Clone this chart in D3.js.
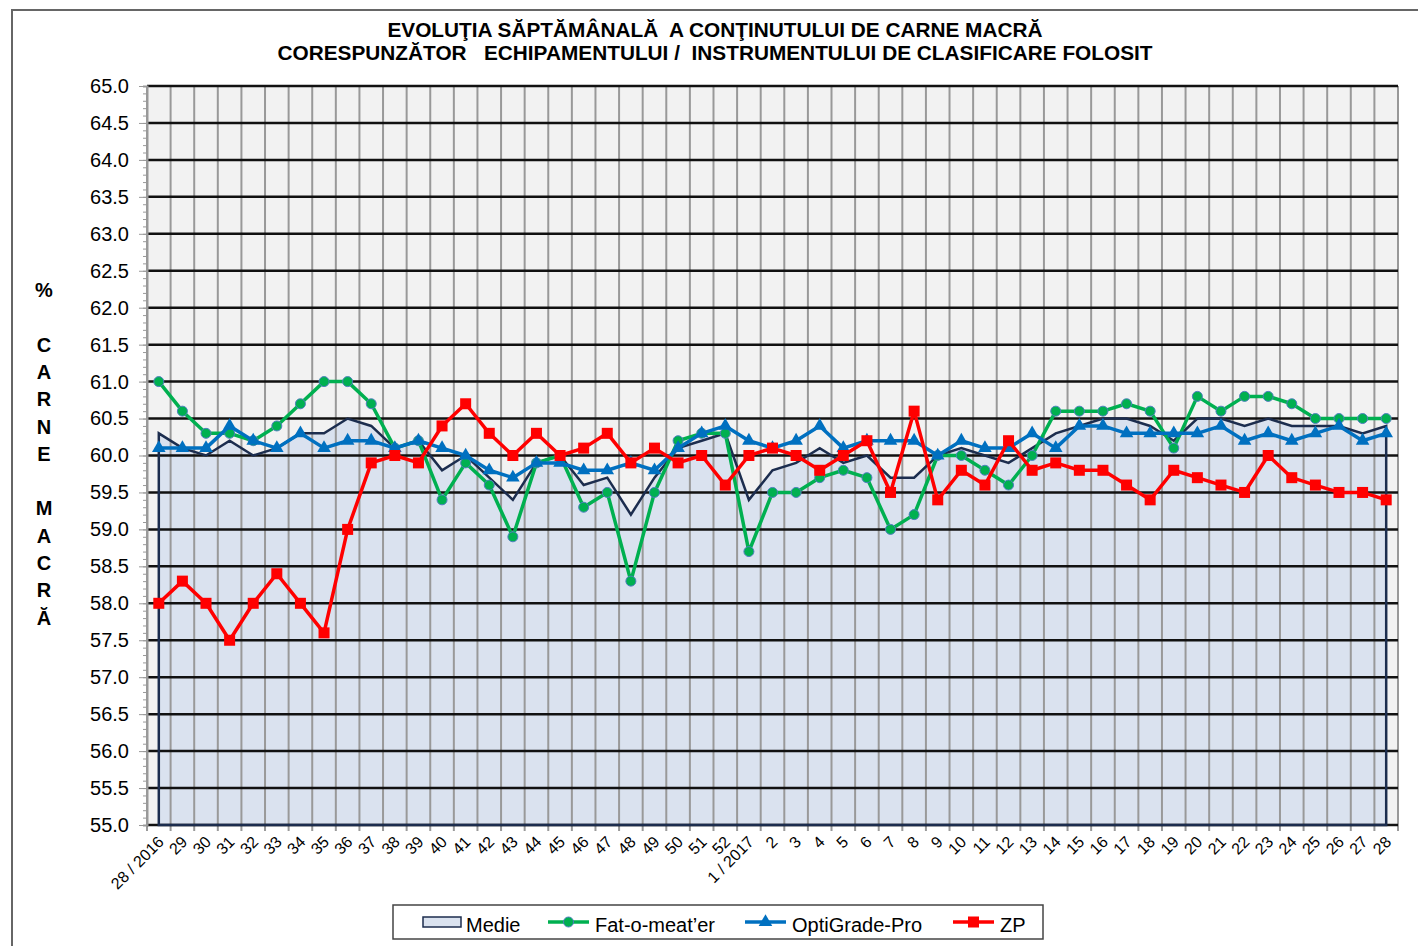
<!DOCTYPE html>
<html>
<head>
<meta charset="utf-8">
<script src="https://cdn.jsdelivr.net/npm/d3@7"></script>
<style>
  body { margin: 0; background: #fff; }
  text { font-family: "Liberation Sans", Arial, sans-serif; }
</style>
</head>
<body>
<svg width="1418" height="946"></svg>
<script>
// week labels
var weeks = ["28 / 2016","29","30","31","32","33","34","35","36","37","38","39","40","41","42","43","44","45","46","47","48","49","50","51","52",
    "1 / 2017","2","3","4","5","6","7","8","9","10","11","12","13","14","15","16","17","18","19","20","21","22","23","24","25","26","27","28"];

var medie = [60.3,60.1,60.0,60.2,60.0,60.1,60.3,60.3,60.5,60.4,60.1,60.2,59.8,60.0,59.7,59.4,59.9,60.0,59.6,59.7,59.2,59.7,60.1,60.2,60.3,
    59.4,59.8,59.9,60.1,59.9,60.0,59.7,59.7,60.0,60.1,60.0,59.9,60.1,60.3,60.4,60.5,60.5,60.4,60.2,60.5,60.5,60.4,60.5,60.4,60.4,60.4,60.3,60.4];

var fatOMeater = [61.0,60.6,60.3,60.3,60.2,60.4,60.7,61.0,61.0,60.7,60.1,60.2,59.4,59.9,59.6,58.9,59.9,60.0,59.3,59.5,58.3,59.5,60.2,60.3,60.3,
    58.7,59.5,59.5,59.7,59.8,59.7,59.0,59.2,60.0,60.0,59.8,59.6,60.0,60.6,60.6,60.6,60.7,60.6,60.1,60.8,60.6,60.8,60.8,60.7,60.5,60.5,60.5,60.5];

var optiGrade = [60.1,60.1,60.1,60.4,60.2,60.1,60.3,60.1,60.2,60.2,60.1,60.2,60.1,60.0,59.8,59.7,59.9,59.9,59.8,59.8,59.9,59.8,60.1,60.3,60.4,
    60.2,60.1,60.2,60.4,60.1,60.2,60.2,60.2,60.0,60.2,60.1,60.1,60.3,60.1,60.4,60.4,60.3,60.3,60.3,60.3,60.4,60.2,60.3,60.2,60.3,60.4,60.2,60.3];

var zp = [58.0,58.3,58.0,57.5,58.0,58.4,58.0,57.6,59.0,59.9,60.0,59.9,60.4,60.7,60.3,60.0,60.3,60.0,60.1,60.3,59.9,60.1,59.9,60.0,59.6,
    60.0,60.1,60.0,59.8,60.0,60.2,59.5,60.6,59.4,59.8,59.6,60.2,59.8,59.9,59.8,59.8,59.6,59.4,59.8,59.7,59.6,59.5,60.0,59.7,59.6,59.5,59.5,59.4];

var yTicks = d3.range(55, 65.01, 0.5);
var titleLines = ["EVOLUŢIA SĂPTĂMÂNALĂ  A CONŢINUTULUI DE CARNE MACRĂ",
    "CORESPUNZĂTOR   ECHIPAMENTULUI /  INSTRUMENTULUI DE CLASIFICARE FOLOSIT"];
var yTitle = ["%", "", "C", "A", "R", "N", "E", "", "M", "A", "C", "R", "Ă"];

var svg = d3.select("svg");
var pLeft = 147, pRight = 1398, pTop = 86, pBottom = 825;

var x = d3.scaleBand().domain(weeks).range([pLeft, pRight]);
var y = d3.scaleLinear().domain([55, 65]).range([pBottom, pTop]);
var cx = function(d, i) { return x(weeks[i]) + x.bandwidth() / 2; };

// outer frame
svg.append("rect").attr("x", 12).attr("y", 10).attr("width", 1450).attr("height", 980)
    .attr("fill", "#fff").attr("stroke", "#666").attr("stroke-width", 2);

// plot background
svg.append("rect").attr("x", pLeft).attr("y", pTop).attr("width", pRight - pLeft).attr("height", pBottom - pTop)
    .attr("fill", "#f2f2f2");

// Medie area
var area = d3.area().x(cx).y0(pBottom).y1(function(d) { return y(d); });
svg.append("path").datum(medie).attr("d", area).attr("fill", "#dae2ef");

// vertical grid
var bounds = d3.range(weeks.length + 1).map(function(i) { return pLeft + i * x.bandwidth(); });
svg.append("g").selectAll("line").data(bounds).enter().append("line")
    .attr("x1", function(d) { return d; }).attr("x2", function(d) { return d; })
    .attr("y1", pTop).attr("y2", pBottom + 6)
    .attr("stroke", "#999").attr("stroke-width", 2);

// horizontal grid
svg.append("g").selectAll("line").data(yTicks).enter().append("line")
    .attr("x1", pLeft).attr("x2", pRight)
    .attr("y1", function(d) { return y(d); }).attr("y2", function(d) { return y(d); })
    .attr("stroke", "#111").attr("stroke-width", 2.5);

// y axis with minor ticks
var yAxis = svg.append("g").attr("transform", "translate(" + pLeft + ",0)")
    .call(d3.axisLeft(y).tickValues(d3.range(55, 65.001, 0.1)).tickSize(4).tickFormat(""));
yAxis.select(".domain").attr("stroke", "#999").attr("stroke-width", 2);
yAxis.selectAll(".tick line").attr("stroke", "#999");

var yLab = svg.append("g").attr("transform", "translate(" + pLeft + ",0)")
    .call(d3.axisLeft(y).tickValues(yTicks).tickSize(8).tickPadding(10).tickFormat(d3.format(".1f")));
yLab.select(".domain").remove();
yLab.selectAll(".tick line").attr("stroke", "#999");
yLab.selectAll(".tick text").attr("font-size", 20).attr("fill", "#000")
    .attr("font-family", "Liberation Sans, Arial, sans-serif");

// Medie outline
var medieLine = d3.line().x(cx).y(function(d) { return y(d); });
var n = medie.length - 1;
svg.append("path")
    .attr("d", "M" + cx(0, 0) + "," + pBottom + "L" + medieLine(medie).slice(1) + "L" + cx(0, n) + "," + pBottom + "Z")
    .attr("fill", "none").attr("stroke", "#1c2d4e").attr("stroke-width", 2.5);

// x labels
svg.append("g").selectAll("text").data(weeks).enter().append("text")
    .attr("transform", function(d, i) { return "translate(" + (cx(d, i) + 6) + "," + (pBottom + 18) + ") rotate(-45)"; })
    .attr("text-anchor", "end").attr("font-size", 16).attr("fill", "#000")
    .text(function(d) { return d; });

// series
var line = d3.line().x(cx).y(function(d) { return y(d); });
var series = [
    {data: fatOMeater, color: "#00b050", marker: "circle"},
    {data: optiGrade, color: "#0070c0", marker: "triangle"},
    {data: zp, color: "#ff0000", marker: "square"}
];

function drawMarker(g, type, color, px, py) {
    if (type === "circle") {
        g.append("circle").attr("cx", px).attr("cy", py).attr("r", 5)
            .attr("fill", color).attr("stroke", "#4f7fbf").attr("stroke-width", 1);
    } else if (type === "triangle") {
        g.append("path").attr("d", d3.symbol().type(d3.symbolTriangle).size(80)())
            .attr("transform", "translate(" + px + "," + py + ")").attr("fill", color);
    } else {
        g.append("rect").attr("x", px - 5.5).attr("y", py - 5.5).attr("width", 11).attr("height", 11)
            .attr("fill", color);
    }
}

series.forEach(function(s) {
    svg.append("path").datum(s.data).attr("d", line)
        .attr("fill", "none").attr("stroke", s.color).attr("stroke-width", 3.5).attr("stroke-linejoin", "round");
    var g = svg.append("g");
    s.data.forEach(function(d, i) { drawMarker(g, s.marker, s.color, cx(d, i), y(d)); });
});

// title
svg.append("g").selectAll("text").data(titleLines).enter().append("text")
    .attr("x", 715).attr("y", function(d, i) { return 37 + i * 23; })
    .attr("text-anchor", "middle").attr("font-size", 20.8).attr("font-weight", "bold")
    .style("white-space", "pre").text(function(d) { return d; });

// y title
svg.append("g").selectAll("text").data(yTitle).enter().append("text")
    .attr("x", 44).attr("y", function(d, i) { return 297 + i * 27.3; })
    .attr("text-anchor", "middle").attr("font-size", 20).attr("font-weight", "bold")
    .text(function(d) { return d; });

// legend
var lg = svg.append("g");
lg.append("rect").attr("x", 393).attr("y", 905).attr("width", 650).attr("height", 34)
    .attr("fill", "#fff").attr("stroke", "#444").attr("stroke-width", 1.5);
lg.append("rect").attr("x", 423).attr("y", 917).attr("width", 38).attr("height", 10)
    .attr("fill", "#dae2ef").attr("stroke", "#1c2d4e").attr("stroke-width", 1.5);
lg.append("text").attr("x", 466).attr("y", 932).attr("font-size", 20).text("Medie");
var legItems = [
    {x: 548, label: "Fat-o-meat’er", s: series[0]},
    {x: 745, label: "OptiGrade-Pro", s: series[1]},
    {x: 953, label: "ZP", s: series[2]}
];
legItems.forEach(function(it) {
    lg.append("line").attr("x1", it.x).attr("x2", it.x + 41).attr("y1", 922).attr("y2", 922)
        .attr("stroke", it.s.color).attr("stroke-width", 3.5);
    drawMarker(lg, it.s.marker, it.s.color, it.x + 20.5, 922);
    lg.append("text").attr("x", it.x + 47).attr("y", 932).attr("font-size", 20).text(it.label);
});
</script>
</body>
</html>
